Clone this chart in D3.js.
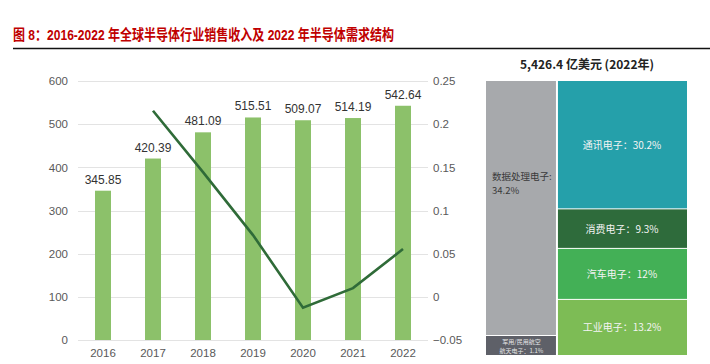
<!DOCTYPE html>
<html>
<head>
<meta charset="utf-8">
<script src="https://cdn.jsdelivr.net/npm/d3@7/dist/d3.min.js"></script>
<style>
  body { margin: 0; background: #fff; }
  svg { display: block; font-family: "Liberation Sans", Arial, "Noto Sans CJK SC", sans-serif; }
  .tm text { font-family: "Noto Sans CJK SC", "Noto Sans", sans-serif; }
</style>
</head>
<body>
<svg id="chart" width="710" height="364"></svg>
<script>
// --- data ---
var years = ['2016', '2017', '2018', '2019', '2020', '2021', '2022'];
var revenue = [345.85, 420.39, 481.09, 515.51, 509.07, 514.19, 542.64];
var growth = [null, 0.2155, 0.1444, 0.0715, -0.0125, 0.0101, 0.0553];
var leftTicks = [0, 100, 200, 300, 400, 500, 600];
var rightTicks = [-0.05, 0, 0.05, 0.1, 0.15, 0.2, 0.25];

var segNames = ['数据处理电子', '军用/民用航空航天电子', '通讯电子', '消费电子', '汽车电子', '工业电子'];
var segShares = [34.2, 1.1, 30.2, 9.3, 12, 13.2];
var segColumn = [0, 0, 1, 1, 1, 1];
var segColors = ['#a7a9ac', '#5e6068', '#25a0aa', '#2e6b3b', '#43b056', '#7dbc55'];

var svg = d3.select('#chart');

// title
svg.append('text')
  .attr('x', 13).attr('y', 40)
  .attr('fill', '#c00000')
  .attr('font-weight', 'bold')
  .attr('font-size', 15)
  .attr('textLength', 381)
  .attr('lengthAdjust', 'spacingAndGlyphs')
  .text('图 8：2016-2022 年全球半导体行业销售收入及 2022 年半导体需求结构');
svg.append('line')
  .attr('x1', 13).attr('x2', 710).attr('y1', 48.5).attr('y2', 48.5)
  .attr('stroke', '#111').attr('stroke-width', 1.6);

// --- left: bars + growth line ---
var x = d3.scaleBand().domain(years).range([78, 428]).paddingInner(0.68).paddingOuter(0.34);
var y = d3.scaleLinear().domain([0, 600]).range([340, 81]);
var y2 = d3.scaleLinear().domain([-0.05, 0.25]).range([340, 81]);

var g = svg.append('g');

g.selectAll('line.grid').data(leftTicks).enter()
  .append('line').attr('class', 'grid')
  .attr('x1', 78).attr('x2', 428)
  .attr('y1', function(d) { return Math.round(y(d)) + 0.5; })
  .attr('y2', function(d) { return Math.round(y(d)) + 0.5; })
  .attr('stroke', '#e3e3e3').attr('stroke-width', 1);

var axL = g.append('g').attr('transform', 'translate(78,0)')
  .call(d3.axisLeft(y).tickValues(leftTicks).tickSize(0).tickPadding(10));
var axR = g.append('g').attr('transform', 'translate(428,0)')
  .call(d3.axisRight(y2).tickValues(rightTicks).tickSize(0).tickPadding(5)
    .tickFormat(function(d) { return d3.format('')(+d.toFixed(2)); }));
var axX = g.append('g').attr('transform', 'translate(0,340)')
  .call(d3.axisBottom(x).tickSize(0).tickPadding(9));
[axL, axR, axX].forEach(function(a) {
  a.select('.domain').remove();
  a.selectAll('text').attr('fill', '#595959').attr('font-size', 11.5)
    .attr('font-family', '"Liberation Sans", Arial, sans-serif');
});

g.selectAll('rect.bar').data(revenue).enter()
  .append('rect').attr('class', 'bar')
  .attr('x', function(d, i) { return x(years[i]); })
  .attr('y', function(d) { return y(d); })
  .attr('width', x.bandwidth())
  .attr('height', function(d) { return y(0) - y(d); })
  .attr('fill', '#8cc16a');

g.selectAll('text.val').data(revenue).enter()
  .append('text').attr('class', 'val')
  .attr('x', function(d, i) { return x(years[i]) + x.bandwidth() / 2; })
  .attr('y', function(d) { return y(d) - 7; })
  .attr('text-anchor', 'middle')
  .attr('font-size', 12).attr('fill', '#333')
  .text(function(d) { return d.toFixed(2); });

var line = d3.line()
  .defined(function(d) { return d != null; })
  .x(function(d, i) { return x(years[i]) + x.bandwidth() / 2; })
  .y(function(d) { return y2(d); });
g.append('path').datum(growth)
  .attr('d', line)
  .attr('fill', 'none')
  .attr('stroke', '#2f6b38')
  .attr('stroke-width', 2.6);

// --- right: demand structure ---
var tm = svg.append('g').attr('class', 'tm');
tm.append('text')
  .attr('x', 587).attr('y', 69)
  .attr('text-anchor', 'middle')
  .attr('font-weight', 'bold').attr('font-size', 12).attr('fill', '#222')
  .text('5,426.4 亿美元 (2022年)');

var total = d3.sum(segShares);
var xT = d3.scaleLinear().domain([0, total]).range([486, 687]);
var tmTop = 81, tmBottom = 356, minH = 20;

var colSums = [0, 0];
segShares.forEach(function(v, i) { colSums[segColumn[i]] += v; });

var cells = [];
[0, 1].forEach(function(c) {
  var x0 = c === 0 ? xT(0) : xT(colSums[0]);
  var x1 = c === 0 ? xT(colSums[0]) : xT(total);
  var idx = d3.range(segShares.length).filter(function(i) { return segColumn[i] === c; });
  var yT = d3.scaleLinear().domain([0, colSums[c]]).range([0, tmBottom - tmTop]);
  // small cells get a minimum height, the rest share what is left
  var small = idx.filter(function(i) { return yT(segShares[i]) < minH; });
  var bigSum = d3.sum(idx.filter(function(i) { return small.indexOf(i) < 0; }), function(i) { return segShares[i]; });
  var yB = d3.scaleLinear().domain([0, bigSum]).range([0, tmBottom - tmTop - small.length * minH]);
  var cy = tmTop;
  idx.forEach(function(i) {
    var h = small.indexOf(i) >= 0 ? minH : yB(segShares[i]);
    cells.push({ i: i, x0: x0, x1: x1, y0: cy, y1: cy + h });
    cy += h;
  });
});

tm.selectAll('rect').data(cells).enter()
  .append('rect')
  .attr('x', function(d) { return d.x0 + (segColumn[d.i] === 1 ? 1 : 0); })
  .attr('y', function(d) { return d.y0; })
  .attr('width', function(d) { return d.x1 - d.x0 - 1; })
  .attr('height', function(d) { return d.y1 - d.y0 - 1; })
  .attr('fill', function(d) { return segColors[d.i]; });

cells.forEach(function(d) {
  var name = segNames[d.i], pct = segShares[d.i] + '%';
  var cx = (d.x0 + d.x1) / 2, cy = (d.y0 + d.y1) / 2;
  if (d.i === 0) {
    var ly = d.y0 + (d.y1 - d.y0) * 0.39;
    tm.append('text').attr('x', d.x0 + 6).attr('y', ly)
      .attr('font-size', 9.5).attr('fill', '#3a3a3a').text(name + ':');
    tm.append('text').attr('x', d.x0 + 6).attr('y', ly + 14)
      .attr('font-size', 9.5).attr('fill', '#3a3a3a').text(pct);
  } else if (d.i === 1) {
    tm.append('text').attr('x', cx).attr('y', cy - 2)
      .attr('font-size', 6).attr('fill', '#e6e6e6').attr('text-anchor', 'middle')
      .text('军用/民用航空');
    tm.append('text').attr('x', cx).attr('y', cy + 7)
      .attr('font-size', 6).attr('fill', '#e6e6e6').attr('text-anchor', 'middle')
      .text('航天电子：' + pct);
  } else {
    tm.append('text')
      .attr('x', cx).attr('y', cy + 3.5)
      .attr('text-anchor', 'middle')
      .attr('font-size', 10).attr('fill', '#f4f4f4')
      .text(name + '：' + pct);
  }
});
</script>
</body>
</html>
